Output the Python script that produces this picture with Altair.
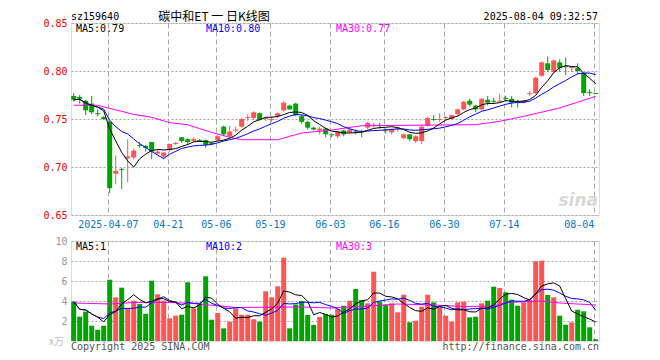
import altair as alt
import pandas as pd

# ---------------- data ----------------
opens = [0.774, 0.773, 0.769, 0.766, 0.756, 0.752, 0.747, 0.693, 0.698, 0.709,
         0.710, 0.723, 0.722, 0.726, 0.714, 0.711, 0.718, 0.724, 0.731, 0.729,
         0.727, 0.728, 0.728, 0.725, 0.728, 0.742, 0.732, 0.738, 0.742, 0.751,
         0.751, 0.756, 0.750, 0.749, 0.753, 0.759, 0.764, 0.766, 0.753, 0.747,
         0.741, 0.738, 0.740, 0.734, 0.732, 0.738, 0.736, 0.737, 0.737, 0.741,
         0.743, 0.744, 0.739, 0.736, 0.740, 0.730, 0.734, 0.727, 0.727, 0.743,
         0.750, 0.749, 0.751, 0.750, 0.755, 0.760, 0.769, 0.764, 0.760, 0.770,
         0.769, 0.768, 0.772, 0.771, 0.768, 0.767, 0.776, 0.777, 0.795, 0.808,
         0.799, 0.809, 0.805, 0.803, 0.803, 0.798, 0.778, 0.777]
highs = [0.777, 0.775, 0.770, 0.774, 0.760, 0.753, 0.748, 0.712, 0.699, 0.729,
         0.719, 0.726, 0.723, 0.726, 0.718, 0.716, 0.724, 0.726, 0.731, 0.730,
         0.731, 0.729, 0.728, 0.726, 0.733, 0.743, 0.743, 0.742, 0.751, 0.755,
         0.758, 0.757, 0.752, 0.753, 0.757, 0.769, 0.765, 0.767, 0.755, 0.748,
         0.742, 0.742, 0.741, 0.735, 0.738, 0.739, 0.740, 0.739, 0.739, 0.747,
         0.746, 0.746, 0.740, 0.740, 0.742, 0.735, 0.734, 0.733, 0.744, 0.752,
         0.754, 0.756, 0.753, 0.754, 0.761, 0.769, 0.771, 0.765, 0.772, 0.774,
         0.772, 0.776, 0.774, 0.774, 0.770, 0.770, 0.779, 0.794, 0.810, 0.815,
         0.812, 0.812, 0.814, 0.805, 0.808, 0.798, 0.781, 0.777]
lows = [0.768, 0.766, 0.754, 0.755, 0.753, 0.749, 0.673, 0.682, 0.677, 0.684,
        0.708, 0.720, 0.716, 0.708, 0.713, 0.708, 0.716, 0.723, 0.725, 0.723,
        0.726, 0.726, 0.720, 0.723, 0.727, 0.732, 0.730, 0.736, 0.741, 0.748,
        0.749, 0.748, 0.748, 0.747, 0.751, 0.758, 0.760, 0.753, 0.745, 0.739,
        0.738, 0.734, 0.731, 0.731, 0.730, 0.732, 0.735, 0.734, 0.731, 0.739,
        0.741, 0.740, 0.735, 0.734, 0.737, 0.729, 0.727, 0.725, 0.724, 0.742,
        0.748, 0.747, 0.749, 0.749, 0.753, 0.759, 0.763, 0.757, 0.759, 0.764,
        0.766, 0.767, 0.768, 0.762, 0.762, 0.766, 0.774, 0.776, 0.794, 0.799,
        0.798, 0.799, 0.796, 0.799, 0.797, 0.774, 0.774, 0.776]
closes = [0.770, 0.771, 0.759, 0.757, 0.755, 0.750, 0.678, 0.696, 0.697, 0.711,
          0.717, 0.722, 0.720, 0.716, 0.716, 0.715, 0.724, 0.725, 0.727, 0.726,
          0.729, 0.727, 0.723, 0.724, 0.732, 0.734, 0.737, 0.739, 0.750, 0.752,
          0.757, 0.749, 0.751, 0.750, 0.756, 0.767, 0.760, 0.754, 0.747, 0.741,
          0.739, 0.740, 0.734, 0.733, 0.737, 0.734, 0.739, 0.736, 0.736, 0.746,
          0.744, 0.743, 0.738, 0.739, 0.741, 0.734, 0.729, 0.732, 0.742, 0.751,
          0.749, 0.750, 0.752, 0.754, 0.760, 0.768, 0.765, 0.760, 0.771, 0.767,
          0.768, 0.769, 0.771, 0.767, 0.767, 0.769, 0.777, 0.793, 0.809, 0.801,
          0.811, 0.803, 0.804, 0.804, 0.800, 0.777, 0.777, 0.776]
volumes = [3.93, 2.43, 2.93, 1.53, 1.13, 1.53, 6.13, 4.37, 5.33, 3.30,
           4.03, 3.70, 2.73, 6.03, 4.67, 4.03, 2.27, 2.53, 2.63, 5.87,
           3.27, 3.70, 6.47, 2.13, 2.80, 1.27, 1.93, 3.27, 2.63, 2.63,
           2.17, 1.93, 4.97, 4.37, 5.47, 8.33, 1.27, 3.65, 4.00, 2.60,
           1.60, 2.40, 2.70, 2.63, 3.20, 3.53, 4.03, 5.20, 4.10, 3.77,
           6.93, 3.93, 3.63, 3.77, 2.87, 4.63, 1.87, 2.03, 3.43, 4.63,
           3.87, 3.37, 2.53, 1.93, 3.87, 3.93, 2.37, 2.43, 3.77, 4.03,
           5.43, 5.30, 4.87, 4.13, 3.53, 3.87, 4.10, 7.97, 8.03, 4.60,
           4.37, 2.53, 1.63, 1.87, 3.13, 2.97, 1.37, 0.17]

# MA30 lines (needs history not shown)
ma30_price_idx = [0, 4, 6, 8, 10, 13, 16, 19, 21, 23, 26, 28, 34, 36, 38, 43, 48, 67, 71, 75, 81, 87]
ma30_price_val = [0.7643, 0.7643, 0.761, 0.758, 0.7548, 0.7518, 0.7462, 0.744, 0.740, 0.736, 0.731,
                  0.7284, 0.7284, 0.732, 0.7354, 0.7385, 0.743, 0.7441, 0.7476, 0.7528, 0.7615, 0.7736]
ma30_vol_idx = [0, 6, 10, 16, 20, 27, 38, 43, 48, 54, 60, 65, 70, 72, 78, 81, 87]
ma30_vol_val = [3.8, 3.7, 3.85, 3.85, 3.75, 3.35, 3.4, 3.3, 3.45, 3.7, 3.6, 3.45, 3.5, 3.85, 4.0, 3.8, 3.6]

tick_idx = [6, 16, 24, 33, 43, 52, 62, 72, 87]
tick_labels = ["2025-04-07", "04-21", "05-06", "05-19", "06-03", "06-16", "06-30", "07-14", "08-04"]
price_ticks = [0.65, 0.70, 0.75, 0.80, 0.85]
vol_ticks = [2, 4, 6, 8, 10]

# ---------------- build ----------------
n = len(closes)
df = pd.DataFrame({"i": list(range(n)), "open": opens, "high": highs, "low": lows,
                   "close": closes, "vol": volumes})
df["dir"] = ["up" if c >= o else "down" for o, c in zip(opens, closes)]
ma30p = pd.DataFrame({"i": ma30_price_idx, "v": ma30_price_val})
ma30v = pd.DataFrame({"i": ma30_vol_idx, "v": ma30_vol_val})

RED = "#ff5555"
GREEN = "#00a400"
FONT = "DejaVu Sans Mono"
CJK = "Noto Sans CJK SC"
W, H1, H2 = 528, 192, 100
XDOM = [-0.45, 87.55]
GRID = "#a8a8a8"

color_enc = alt.Color("dir:N", scale=alt.Scale(domain=["up", "down"], range=[RED, GREEN]), legend=None)

expr = "''"
for t, lab in reversed(list(zip(tick_idx, tick_labels))):
    expr = f"round(datum.value) == {t} ? '{lab}' : " + expr
grid_vals = [t - 0.3 for t in tick_idx]

x_axis_top = alt.Axis(values=grid_vals, labelExpr=expr, grid=True, gridDash=[5, 3], gridColor=GRID,
                      ticks=False, domain=False, labelColor="#0a78c8", labelFont=FONT, labelFontSize=10,
                      labelPadding=4, labelFlush=6, labelOverlap=False, title=None)
x_axis_bot = alt.Axis(values=grid_vals, labels=False, grid=True, gridDash=[5, 3], gridColor=GRID,
                      ticks=False, domain=False, title=None)
xscale = alt.Scale(domain=XDOM, nice=False, zero=False, padding=0)

price_axis = alt.Axis(values=price_ticks, format=".2f", grid=True, gridDash=[2, 2], gridColor=GRID,
                      ticks=False, domain=False, labelColor="#ee0000", labelFont=FONT,
                      labelFontSize=10, labelPadding=4, labelOverlap=False, title=None)
vol_axis = alt.Axis(values=vol_ticks, format="d", grid=True, gridDash=[2, 2], gridColor=GRID,
                    ticks=False, domain=False, labelColor="#999999", labelFont=FONT,
                    labelFontSize=10, labelPadding=4, labelOverlap=False, title=None)
price_scale = alt.Scale(domain=[0.65, 0.85], nice=False, zero=False)
vol_scale = alt.Scale(domain=[0, 10], nice=False, zero=False)


def X(axis):
    return alt.X("i:Q", scale=xscale, axis=axis)


def YP(field):
    return alt.Y(field, scale=price_scale, axis=price_axis)


def YV(field):
    return alt.Y(field, scale=vol_scale, axis=vol_axis)


def txt(text, x, y, color, size=10, align="left", font=FONT, **kw):
    return alt.Chart(pd.DataFrame({"t": [text]})).mark_text(
        align=align, baseline="middle", color=color, fontSize=size, font=font, **kw
    ).encode(x=alt.value(x), y=alt.value(y), text="t:N")


base = alt.Chart(df)
wicks = base.mark_rule(strokeWidth=1).encode(x=X(x_axis_top), y=YP("low:Q"), y2="high:Q", color=color_enc)
bodies = base.mark_bar(size=5).encode(x=X(x_axis_top), y=YP("open:Q"), y2="close:Q", color=color_enc)
ma5 = base.transform_window(m="mean(close)", frame=[-4, 0], sort=[alt.SortField("i")]).mark_line(
    color="black", strokeWidth=1).encode(x=X(x_axis_top), y=YP("m:Q"))
ma10 = base.transform_window(m="mean(close)", frame=[-9, 0], sort=[alt.SortField("i")]).mark_line(
    color="#0000ff", strokeWidth=1).encode(x=X(x_axis_top), y=YP("m:Q"))
ma30 = alt.Chart(ma30p).mark_line(color="#ff00ff", strokeWidth=1).encode(x=X(x_axis_top), y=YP("v:Q"))

top = alt.layer(
    wicks, bodies, ma30, ma10, ma5,
    txt("sina", 527, 178, "#d8d8d8", size=17, align="right", font="DejaVu Sans", fontWeight="bold", fontStyle="italic"),
    txt("MA5:0.79", 5, 6, "black"),
    txt("MA10:0.80", 135, 6, "#0000ff"),
    txt("MA30:0.77", 265, 6, "#ff00ff"),
    txt("sz159640", 0, -6.5, "black"),
    txt("碳中和ET 一 日K线图", 143, -6.5, "black", size=12, align="center", font=CJK),
    txt("2025-08-04 09:32:57", 527, -6.5, "black", align="right"),
).properties(width=W, height=H1)

vbase = alt.Chart(df)
vbars = vbase.mark_bar(size=5).encode(x=X(x_axis_bot), y=YV("vol:Q"), color=color_enc)
vma5 = vbase.transform_window(m="mean(vol)", frame=[-4, 0], sort=[alt.SortField("i")]).mark_line(
    color="black", strokeWidth=1).encode(x=X(x_axis_bot), y=YV("m:Q"))
vma10 = vbase.transform_window(m="mean(vol)", frame=[-9, 0], sort=[alt.SortField("i")]).mark_line(
    color="#0000ff", strokeWidth=1).encode(x=X(x_axis_bot), y=YV("m:Q"))
vma30 = alt.Chart(ma30v).mark_line(color="#ff00ff", strokeWidth=1).encode(x=X(x_axis_bot), y=YV("v:Q"))

bottom = alt.layer(
    vbars, vma30, vma10, vma5,
    txt("MA5:1", 5, 6, "black"),
    txt("MA10:2", 135, 6, "#0000ff"),
    txt("MA30:3", 265, 6, "#ff00ff"),
    txt("x万", -7, 101, "#bbbbbb", align="right", font=CJK),
    txt("Copyright 2025 SINA.COM", 0, 106, "#555555"),
    txt("http://finance.sina.com.cn", 528, 106, "#555555", align="right"),
).properties(width=W, height=H2)

chart = alt.vconcat(top, bottom, spacing=5).properties(
    padding={"left": 34, "top": 2, "right": 0, "bottom": 0}
).configure_view(stroke="#9a9a9a", strokeWidth=1.5).configure(background="white")

chart.save("out.html", embed_options={"renderer": "svg", "actions": False})
